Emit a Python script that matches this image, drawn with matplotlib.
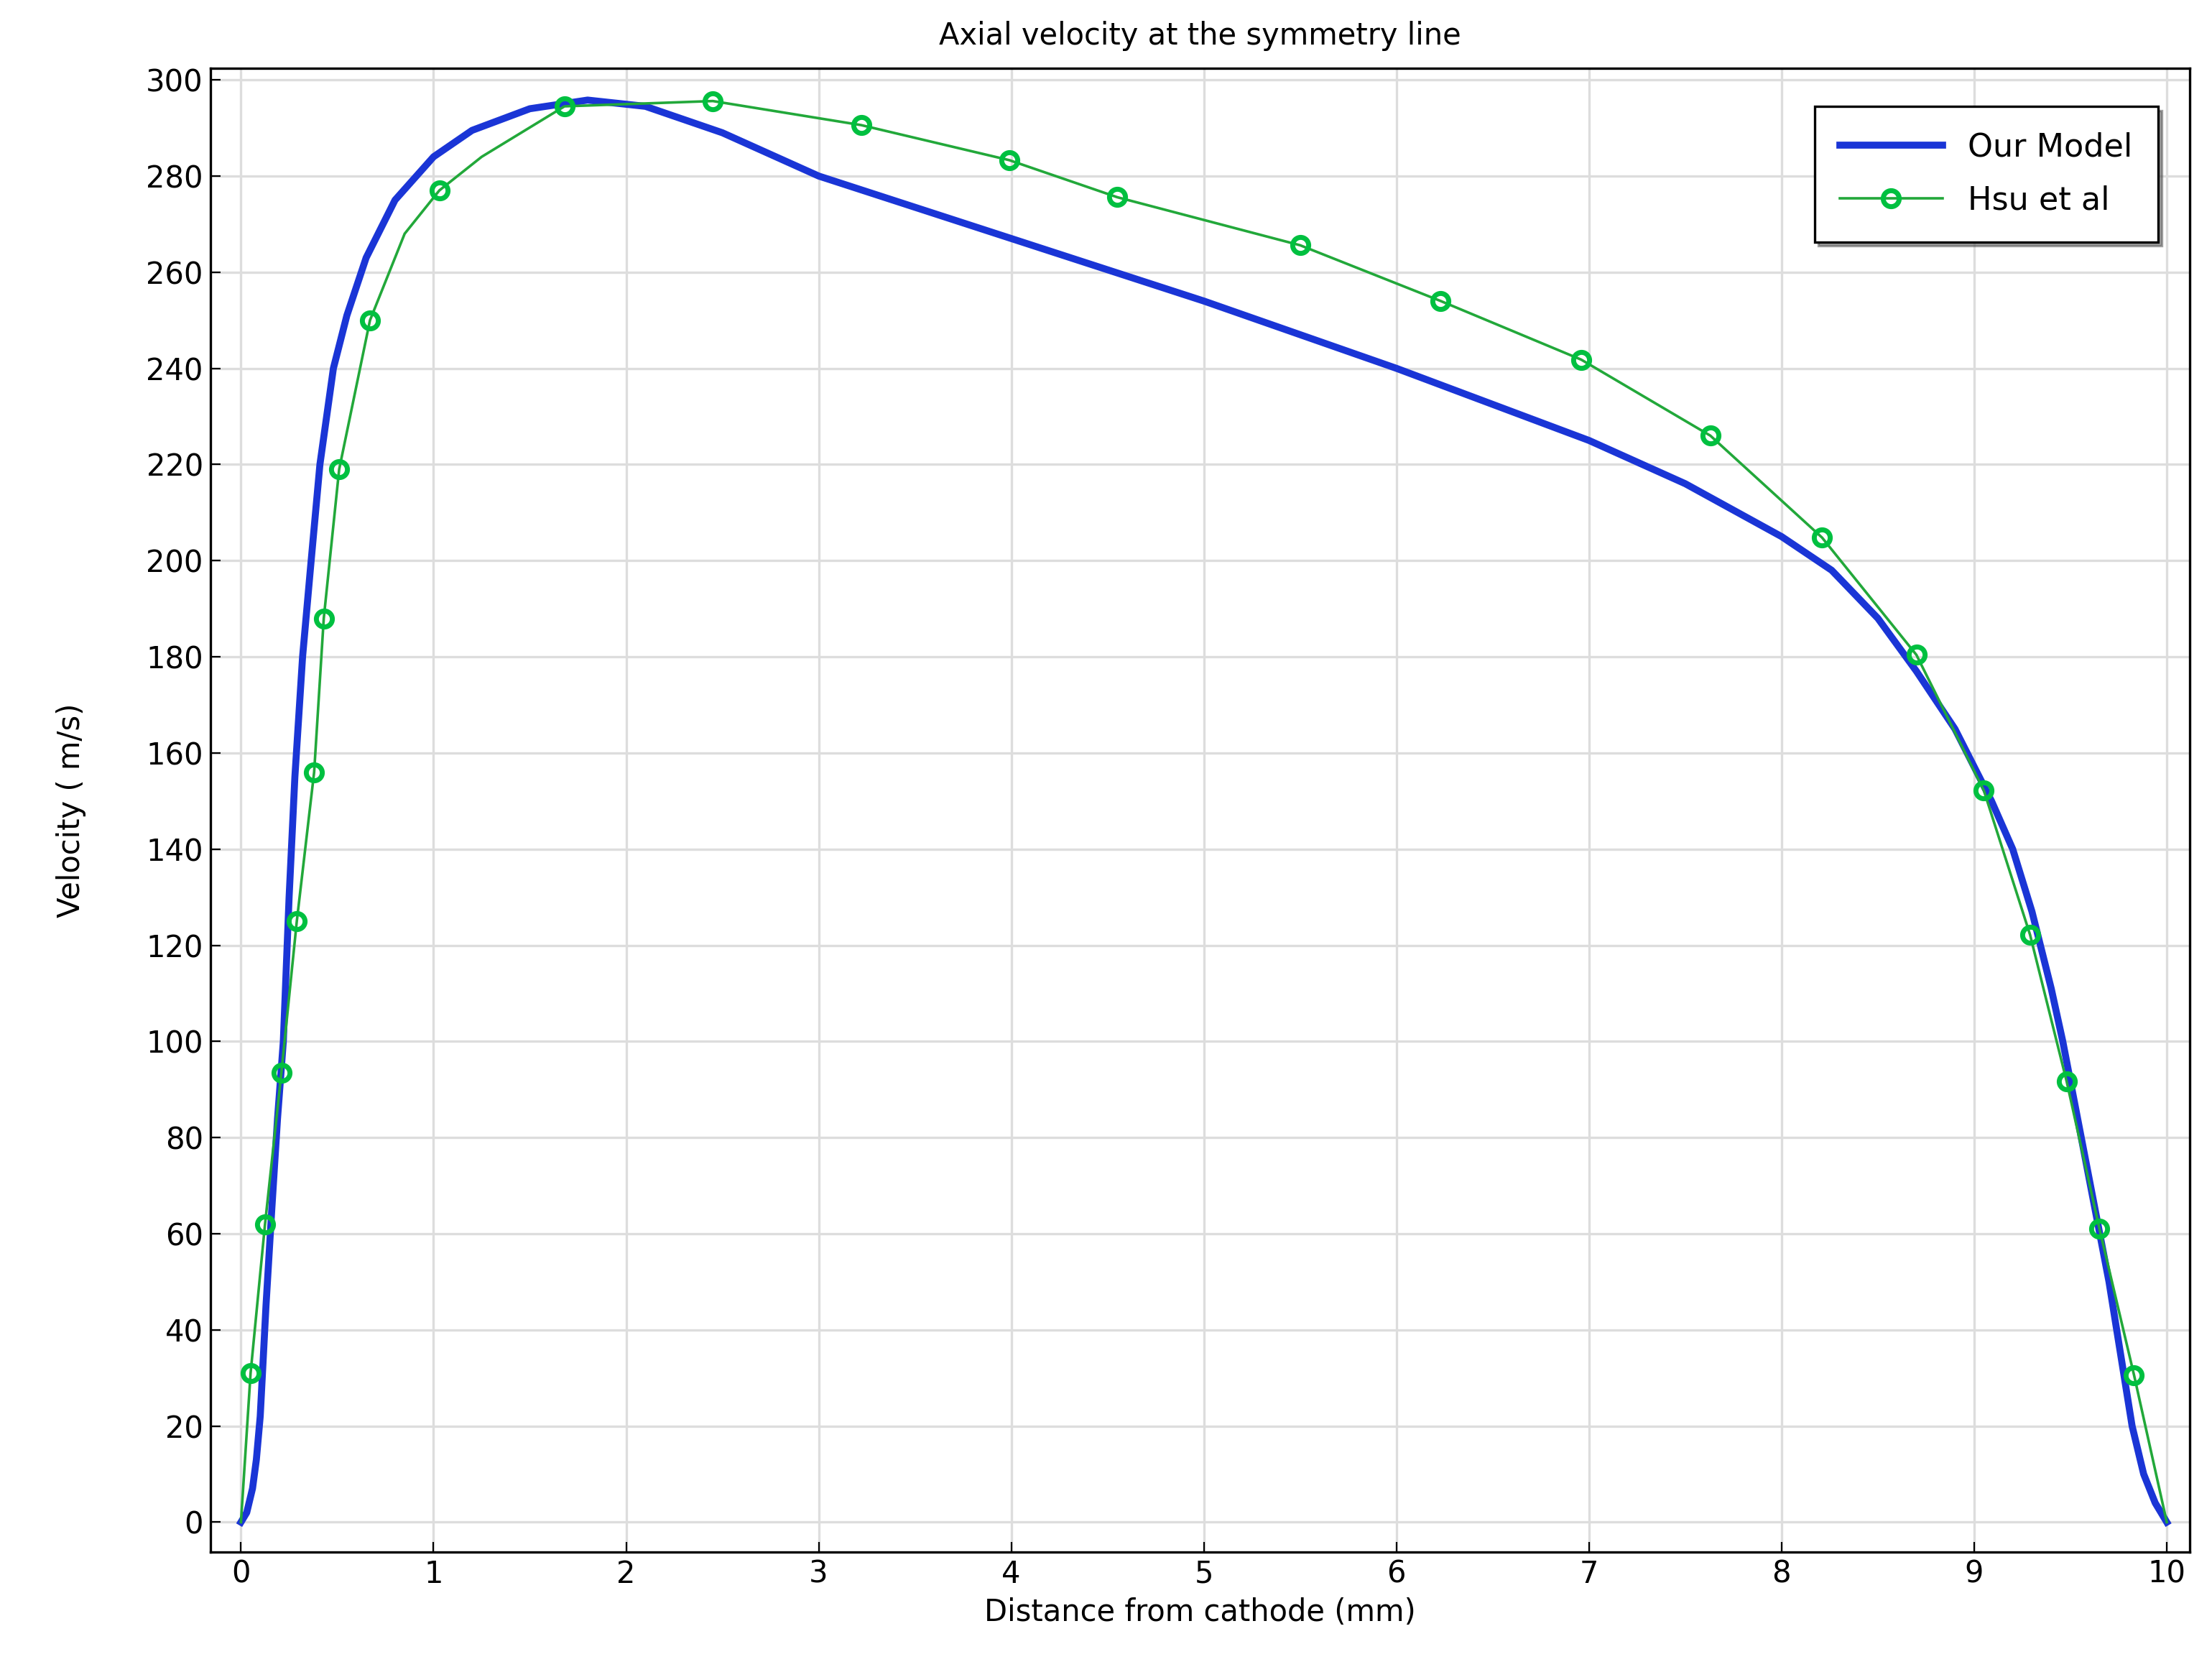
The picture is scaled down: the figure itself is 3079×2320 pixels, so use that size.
import matplotlib.pyplot as plt

# Our Model
model_x = [0, 0.03, 0.06, 0.08, 0.1, 0.13, 0.16, 0.19, 0.22, 0.25, 0.28, 0.32, 0.36, 0.41, 0.48,
           0.55, 0.65, 0.8, 1.0, 1.2, 1.5, 1.8, 2.1, 2.5, 3.0, 3.5, 4.0, 5.0, 6.0, 7.0,
           7.5, 8.0, 8.26, 8.5, 8.7, 8.9, 9.09, 9.2, 9.3, 9.4, 9.46, 9.58, 9.70, 9.82,
           9.88, 9.94, 10.0]
model_y = [0, 2, 7, 13, 22, 45, 65, 84, 100, 130, 155, 180, 198, 220, 240,
           251, 263, 275, 284, 289.5, 294, 295.8, 294.5, 289, 280, 273.5, 267, 254, 240, 225,
           216, 205, 198, 188, 177, 165, 150, 140, 127, 111, 100, 75, 50, 20,
           10, 4, 0]

# Hsu et al
hsu_x = [0, 0.05, 0.125, 0.21, 0.29, 0.38, 0.43, 0.51, 0.67, 0.85, 1.03, 1.25, 1.68, 2.45, 3.22,
         3.99, 4.55, 5.50, 6.23, 6.96, 7.63, 8.21, 8.70, 9.05, 9.29, 9.48, 9.65, 9.83, 10.0]
hsu_y = [0, 31, 62, 93.5, 125, 156, 188, 219, 250, 268, 277, 284, 294.5, 295.6, 290.6,
         283.3, 275.6, 265.6, 254, 241.8, 226, 204.8, 180.4, 152.2, 122.2, 91.7, 61.1, 30.6, 0]
hsu_marks = [i for i in range(1, len(hsu_x) - 1) if i not in (9, 11)]

fig = plt.figure(figsize=(15.395, 11.6), dpi=200)
ax = fig.add_axes([0.095, 0.069, 0.895, 0.89])

ax.plot(model_x, model_y, color="#1a35d6", lw=3.5, label="Our Model", zorder=3,
        solid_joinstyle="round")
ax.plot(hsu_x, hsu_y, color="#22a83a", lw=1.3, marker="o", markevery=hsu_marks,
        markersize=8, markerfacecolor="none", markeredgecolor="#00c040",
        markeredgewidth=2.5, label="Hsu et al", zorder=4)

ax.set_xlim(-0.16, 10.12)
ax.set_ylim(-6.2, 302.4)
ax.set_xticks(range(0, 11))
ax.set_yticks(range(0, 301, 20))
ax.grid(True, color="#dddddd", lw=1.2)
ax.tick_params(labelsize=15, direction="in", length=5)
for s in ax.spines.values():
    s.set_linewidth(1.2)

ax.set_title("Axial velocity at the symmetry line", fontsize=15, pad=12)
ax.set_xlabel("Distance from cathode (mm)", fontsize=15, labelpad=4)
ax.set_ylabel("Velocity ( m/s)", fontsize=15, labelpad=30)

leg = ax.legend(loc="upper right", fontsize=16, fancybox=False, shadow=True,
                edgecolor="black", framealpha=1, handlelength=3.2,
                borderpad=0.8, labelspacing=0.7, bbox_to_anchor=(0.992, 0.985))
leg.get_frame().set_linewidth(1.2)

fig.savefig("out.png", dpi=200)
